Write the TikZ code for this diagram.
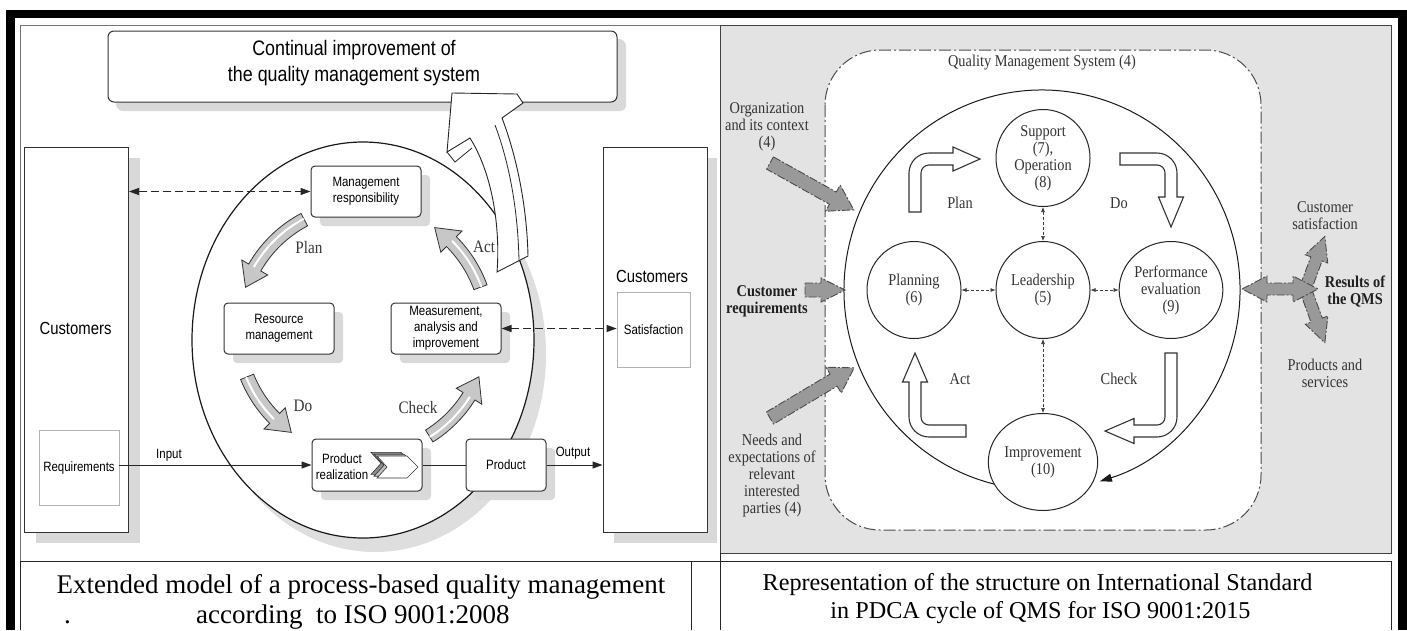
\documentclass[tikz,border=0pt]{standalone}
\usepackage{fontspec}
\setmainfont{Liberation Serif}
\newfontfamily\nsans[FakeStretch=0.85]{Liberation Sans}
\newfontfamily\cserif[FakeStretch=0.87]{Liberation Serif}
\usetikzlibrary{arrows.meta,shapes.geometric,calc}

\newcommand\pdcacurve[4]{%
 \pgfmathsetmacro\ri{#2-7}\pgfmathsetmacro\ro{#2+7}%
 \pgfmathsetmacro\hi{#2-15}\pgfmathsetmacro\ho{#2+15}%
 \pgfmathsetmacro\hb{#4+10}%
 \draw[pdcaL] ($(#1)+(#3:\ri)$) arc[start angle=#3, end angle=\hb, radius=\ri]
   -- ($(#1)+(\hb:\hi)$) -- ($(#1)+(#4:#2)$) -- ($(#1)+(\hb:\ho)$)
   -- ($(#1)+(\hb:\ro)$) arc[start angle=\hb, end angle=#3, radius=\ro] -- cycle;
 \draw[white, line width=2pt] ($(#1)+(#3:#2+1)$) arc[start angle=#3, end angle=\hb, radius=#2+1];
}
\newcommand\gblock[6]{%
 \begin{scope}[shift={(#1,#2)},rotate=#3]
 \pgfmathsetmacro\hbb{#4-24}%
 \draw[garr] (0,-#5) -- (\hbb,-#5) -- (\hbb,-#6) -- (#4,0) -- (\hbb,#6) -- (\hbb,#5) -- (0,#5) -- cycle;
 \end{scope}}

\begin{document}
\begin{tikzpicture}[x=1pt,y=-1pt,
  lfont/.style={font=\nsans\fontsize{13.5}{16}\selectfont},
  shad/.style={preaction={draw=none, fill=black!15, transform canvas={xshift=#1pt, yshift=-#1pt}}},
  lbox/.style={draw=black!80, line width=1pt, fill=white, rounded corners=4pt, inner sep=0pt,
     lfont, align=center, minimum width=110, minimum height=51, shad=9},
  bigbox/.style={draw=black!80, line width=1pt, fill=white, inner sep=0pt, minimum width=104, minimum height=385},
  subbox/.style={draw=black!30, line width=0.8pt, fill=white, inner sep=0pt, lfont, minimum width=80, minimum height=75},
  larr/.style={line width=1pt, black!85, -{Triangle[length=10pt,width=7pt]}},
  ldash/.style={line width=1.1pt, black!85, dash pattern=on 8pt off 4pt,
     {Triangle[length=10pt,width=7pt]}-{Triangle[length=10pt,width=7pt]}},
  pdcaL/.style={fill=black!22, draw=black!80, line width=0.8pt},
  pdcalbl/.style={font=\cserif\fontsize{17.5}{20}\selectfont, text=black!78},
  rt/.style={font=\cserif\fontsize{16.5}{17}\selectfont, text=black!80, align=center},
  rtb/.style={font=\cserif\bfseries\fontsize{16.5}{17}\selectfont, text=black!88, align=center},
  circ/.style={ellipse, draw=black!85, line width=1pt, fill=white, minimum width=94, minimum height=97, inner sep=0pt, rt},
  rblk/.style={fill=white, draw=black!80, line width=1.1pt},
  garr/.style={fill=black!40, draw=black!70, line width=0.9pt, dash pattern=on 8pt off 2pt on 2pt off 2pt},
  small/.style={line width=0.6pt, black!75, dash pattern=on 3pt off 2pt, {Latex[length=5pt,width=4pt]}-{Latex[length=5pt,width=4pt]}},
  capL/.style={font=\fontsize{27}{30}\selectfont},
  capR/.style={font=\fontsize{24.2}{28}\selectfont}
]
\useasboundingbox (0,0) rectangle (1407,630);
\fill[white] (0,0) rectangle (1407,630);

% ---------- panels ----------
\fill[white] (20,25) rectangle (720,561);
\draw[black!55, line width=0.8pt] (20,561) -- (20,25) -- (720,25);
\filldraw[fill=black!11, draw=black!75, line width=0.8pt] (720,25) rectangle (1391,553);
\draw[black!85, line width=1pt] (20,561) -- (1391,561);
\draw[black!85, line width=1pt] (20,561) -- (20,630) (691,561) -- (691,630) (720,553) -- (720,630) (1391,561) -- (1391,630);

% outer frame
\fill[black] (6,10) rectangle (1407,18);
\fill[black] (6,10) rectangle (15,630);
\fill[black] (1398,10) rectangle (1407,630);

% ================= LEFT DIAGRAM =================
\node[lbox, minimum width=509, minimum height=71, rounded corners=6pt, shad=8] (cont) at (362.5,66.5) {};
\node[font=\nsans\fontsize{21}{26}\selectfont, align=center] (contt) at (354,63) {Continual improvement of\\the quality management system};

% shadows of the customer boxes
\fill[black!15] (35.5,158) rectangle (140,543);
\fill[black!15] (614,158) rectangle (717,543);
\node[bigbox] (custL) at (76.5,339.5) {};
\node[bigbox] (custR) at (655,339.5) {};
\node[font=\nsans\fontsize{17.5}{20}\selectfont] (custLt) at (75.5,328) {Customers};
\node[font=\nsans\fontsize{17.5}{20}\selectfont] (custRt) at (652,276) {Customers};
\node[subbox] (req) at (79,467.5) {Requirements};
\node[subbox, minimum width=73] (sat) at (653.5,329.5) {Satisfaction};

% process ellipse
\fill[black!13] (375,354) ellipse[x radius=171, y radius=198];
\draw[fill=white, draw=black!90, line width=1.2pt] (363,340) ellipse[x radius=171, y radius=198];

\node[lbox] (mgmt) at (366,191.5) {Management\\responsibility};
\node[lbox] (res) at (279,328.5) {Resource\\management};
\node[lbox] (meas) at (446,328.5) {Measurement,\\analysis and\\improvement};
\node[lbox, minimum height=52] (prodr) at (367,465) {};
\node[lbox, minimum width=80, minimum height=52] (prod) at (506,465) {Product};
\node[lfont, align=center, inner sep=0pt] (prodrt) at (342,466.5) {Product\\realization};
\foreach \d/\c in {6/black!45, 3/black!25, 0/white}{
  \draw[fill=\c, draw=black!80, line width=0.6pt, shift={(-\d,-0.6*\d)}]
   (377,456) -- (407,456) -- (418,467) -- (407,478) -- (377,478) -- (387,467) -- cycle;}

\draw[ldash] (custL.east |- mgmt.west) -- (mgmt.west);
\draw[ldash] (meas.east) -- (meas.east -| sat.west);
\draw[larr] (req.east |- prodr.west) -- (prodr.west);
\draw[line width=1pt, black!85] (prodr.east) -- (prod.west);
\draw[larr] (prod.east) -- (prod.east -| custR.west);
\node[lfont] (inl) at (169,455) {Input};
\node[lfont] (outl) at (573,453) {Output};

% PDCA curved arrows
\coordinate (pc) at (363,330);
\pdcacurve{pc}{125}{242}{200}
\pdcacurve{pc}{125}{340}{305}
\pdcacurve{pc}{125}{158}{125}
\pdcacurve{pc}{125}{58}{22}
\node[pdcalbl] (lplan) at (309,248) {Plan};
\node[pdcalbl] (lact) at (484,247) {Act};
\node[pdcalbl] (ldo) at (303,406) {Do};
\node[pdcalbl] (lcheck) at (418,408) {Check};

% continual improvement arrow
\draw[fill=white, draw=black!85, line width=0.9pt]
  (497,272) .. controls (500,235) and (495,178) .. (470,138) -- (447,152) -- (452,93)
  -- (517,94) -- (523,103) -- (502,118) .. controls (518,160) and (527,210) .. (528,256) -- cycle;
\draw[black!85, line width=0.8pt] (495,125) .. controls (510,165) and (518,212) .. (519,261);
\draw[black!85, line width=0.8pt] (447,152) -- (455,162) -- (472,148);

% ================= RIGHT DIAGRAM =================
\draw[fill=white, draw=black!70, line width=1pt, rounded corners=55pt,
  dash pattern=on 12pt off 3pt on 2pt off 3pt] (825,50) rectangle (1261,530);
\node[rt] (qmst) at (1042,63) {Quality Management System (4)};

\coordinate (ec) at (1042,290);
\draw[black!90, line width=1pt, -{Triangle[length=12pt,width=8pt]}]
  ($(ec)+(103:198 and 200)$) arc[start angle=103, end angle=433, x radius=198, y radius=200];

\node[circ] (supp) at (1043,158) {Support\\(7),\\Operation\\(8)};
\node[circ] (lead) at (1043,290) {Leadership\\(5)};
\node[circ] (plan) at (914,290) {Planning\\(6)};
\node[circ] (perf) at (1171,290) {Performance\\evaluation\\(9)};
\node[circ] (impr) at (1043,462) {Improvement\\(10)};
\draw[small] (supp.south) -- (lead.north);
\draw[small] (plan.east) -- (lead.west);
\draw[small] (lead.east) -- (perf.west);
\draw[small] (lead.south) -- (impr.north);

% PDCA block arrows
\draw[rblk] (921,212) -- (909,212) -- (909,173) arc[start angle=180, end angle=270, radius=20]
  -- (953,153) -- (953,147) -- (980,159) -- (953,171) -- (953,165) -- (929,165)
  arc[start angle=270, end angle=180, radius=8] -- cycle;
\draw[rblk] (1120,153) -- (1157,153) arc[start angle=270, end angle=360, radius=20]
  -- (1177,197) -- (1183.5,197) -- (1171,227) -- (1158.5,197) -- (1165,197) -- (1165,173)
  arc[start angle=0, end angle=-90, radius=8] -- (1120,165) -- cycle;
\draw[rblk] (1165,353) -- (1177,353) -- (1177,417) arc[start angle=0, end angle=90, radius=20]
  -- (1134,437) -- (1134,443.5) -- (1105,431) -- (1134,418.5) -- (1134,425) -- (1157,425)
  arc[start angle=90, end angle=0, radius=8] -- cycle;
\draw[rblk] (966,437) -- (929,437) arc[start angle=90, end angle=180, radius=20]
  -- (909,382) -- (902.5,382) -- (915,353) -- (927.5,382) -- (921,382) -- (921,417)
  arc[start angle=180, end angle=90, radius=8] -- (966,425) -- cycle;
\node[rt] (rplan) at (960,203) {Plan};
\node[rt] (rdo) at (1119,203) {Do};
\node[rt] (ract) at (960,379) {Act};
\node[rt] (rcheck) at (1119,379) {Check};

% inputs
\node[rt] (org) at (767,127) {Organization\\and its context\\(4)};
\node[rtb] (creq) at (767,301.5) {Customer\\requirements};
\node[rt] (needs) at (772,475.5) {Needs and\\expectations of\\relevant\\interested\\parties (4)};
\gblock{770}{163}{-29.2}{96}{7}{15}
\gblock{770}{418}{30.8}{98}{7}{15}
\gblock{805}{290}{0}{40}{7}{12}

% outputs
\gblock{1306}{287}{69.6}{54}{6}{12}
\gblock{1306}{291}{-70}{55}{6}{12}
\draw[garr] (1242,289) -- (1267,276) -- (1267,283) -- (1293,283) -- (1293,276) -- (1318,289)
  -- (1293,302) -- (1293,295) -- (1267,295) -- (1267,302) -- cycle;
\node[rt] (csat) at (1325,215.5) {Customer\\satisfaction};
\node[rtb] (resq) at (1355,291.5) {Results of\\the QMS};
\node[rt] (pands) at (1325,373.5) {Products and\\services};

% ================= CAPTIONS =================
\node[capL, anchor=base, inner sep=0pt] (capl1) at (361,593) {Extended model of a process-based quality management};
\node[capL, anchor=base west, inner sep=0pt] (capl0) at (64,623) {.};
\node[capL, anchor=base west, inner sep=0pt] (capl2) at (196,623) {according\ \ to ISO 9001:2008};
\node[capR, anchor=base, inner sep=0pt] (capr1) at (1037.5,590) {Representation of the structure on International Standard};
\node[capR, anchor=base, inner sep=0pt] (capr2) at (1040.5,618) {in PDCA cycle of QMS for ISO 9001:2015};
\end{tikzpicture}
\end{document}
